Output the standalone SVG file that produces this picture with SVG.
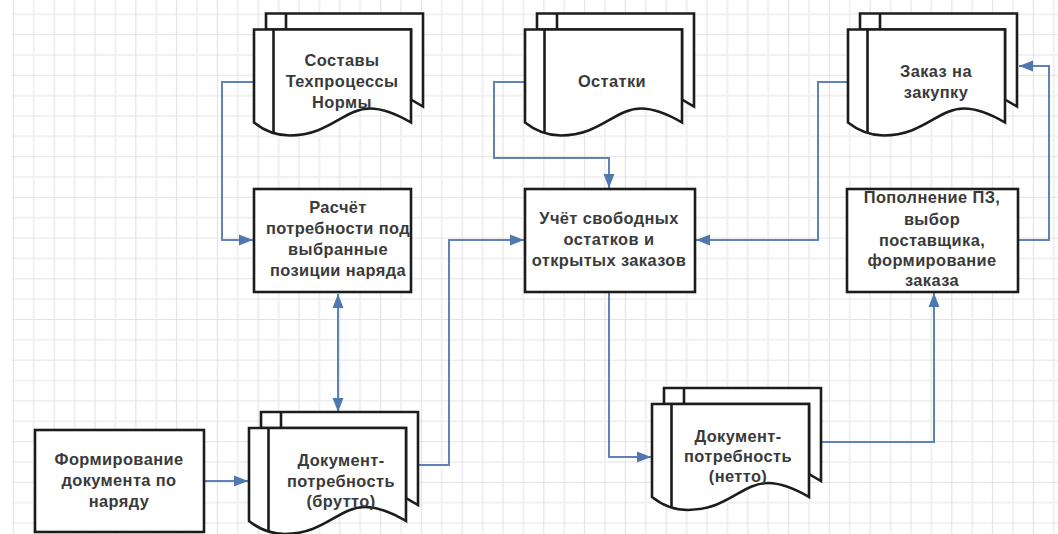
<svg xmlns="http://www.w3.org/2000/svg" xmlns:xlink="http://www.w3.org/1999/xlink" width="1058" height="534" viewBox="0 0 1058 534">
<style>
.box{fill:#fff;stroke:#1c1c1c;stroke-width:2.6}
.ln{fill:none;stroke:#1c1c1c;stroke-width:2.6}
.wh{fill:#fff;stroke:#1c1c1c;stroke-width:2.6;stroke-linejoin:miter}
.con{fill:none;stroke:#5f82b8;stroke-width:2}
text{font-family:"Liberation Sans",Arial,sans-serif;font-weight:700;font-size:16.4px;fill:#3a3a3a;text-anchor:middle;letter-spacing:.4px}
</style>
<defs>
<pattern id="grid" patternUnits="userSpaceOnUse" x="74.6" y="95.65" width="40.8" height="40.7">
<rect width="40.8" height="40.7" fill="#fff"/>
<path d="M0,0V40.7M40.8,0V40.7M0,0H40.8M0,40.7H40.8" stroke="#f1f1f3" stroke-width="2" fill="none"/>
<path d="M20.4,0V40.7M0,20.35H40.8" stroke="#e3e4e7" stroke-width="1.2" fill="none"/>
</pattern>
<marker id="arrow" markerUnits="userSpaceOnUse" markerWidth="15" markerHeight="12" refX="14" refY="6" orient="auto-start-reverse">
<path d="M0,0.5L14,6L0,11.5Z" fill="#4f78b0"/>
</marker>
<g id="doc">
<path class="wh" d="M12,0V-16H169V77L157,70V0Z"/>
<path class="ln" d="M32,-16V0"/>
<path class="wh" d="M0,0H157V93C140,83 125,79 116,79C90,79 75,106 36,106C22,106 10,101 0,93Z"/>
<path class="ln" d="M19.5,0V103"/>
</g>
</defs>
<rect width="1058" height="534" fill="#fff"/>
<rect x="12" width="1046" height="534" fill="url(#grid)"/>
<g id="connectors">
<path class="con" d="M254,82H222V240H253" marker-end="url(#arrow)"/>
<path class="con" d="M338,294V412" marker-start="url(#arrow)" marker-end="url(#arrow)"/>
<path class="con" d="M418,465H449V240H524" marker-end="url(#arrow)"/>
<path class="con" d="M204,481H248" marker-end="url(#arrow)"/>
<path class="con" d="M525,82H494V158H609V188" marker-end="url(#arrow)"/>
<path class="con" d="M847,82H818V240H696" marker-end="url(#arrow)"/>
<path class="con" d="M609,292V457H651" marker-end="url(#arrow)"/>
<path class="con" d="M822,442H934V293" marker-end="url(#arrow)"/>
<path class="con" d="M1018,240H1049V66H1019" marker-end="url(#arrow)"/>
</g>
<g id="node-sostavy">
<use xlink:href="#doc" href="#doc" x="254" y="29.5"/>
<text x="342" y="66">Составы</text>
<text x="342" y="87">Техпроцессы</text>
<text x="342" y="108">Нормы</text>
</g>
<g id="node-ostatki">
<use xlink:href="#doc" href="#doc" x="525" y="29.5"/>
<text x="612" y="87">Остатки</text>
</g>
<g id="node-zakaz">
<use xlink:href="#doc" href="#doc" x="848" y="29.5"/>
<text x="936" y="77">Заказ на</text>
<text x="936" y="98">закупку</text>
</g>
<g id="node-raschet">
<rect class="box" x="254" y="189" width="157" height="103"/>
<text x="338" y="213">Расчёт</text>
<text x="338" y="234">потребности под</text>
<text x="338" y="255">выбранные</text>
<text x="338" y="276">позиции наряда</text>
</g>
<g id="node-uchet">
<rect class="box" x="525" y="189" width="170" height="103"/>
<text x="609" y="224">Учёт свободных</text>
<text x="609" y="245">остатков и</text>
<text x="609" y="266">открытых заказов</text>
</g>
<g id="node-popolnenie">
<rect class="box" x="847" y="189" width="171" height="103"/>
<text x="932" y="203">Пополнение ПЗ,</text>
<text x="932" y="225">выбор</text>
<text x="932" y="246">поставщика,</text>
<text x="932" y="266">формирование</text>
<text x="932" y="286">заказа</text>
</g>
<g id="node-formirovanie">
<rect class="box" x="35" y="430" width="169" height="102"/>
<text x="119" y="465">Формирование</text>
<text x="119" y="486">документа по</text>
<text x="119" y="507">наряду</text>
</g>
<g id="node-brutto">
<use xlink:href="#doc" href="#doc" x="249" y="428"/>
<text x="341" y="466">Документ-</text>
<text x="341" y="487">потребность</text>
<text x="341" y="507">(брутто)</text>
</g>
<g id="node-netto">
<use xlink:href="#doc" href="#doc" x="652" y="404"/>
<text x="738" y="442">Документ-</text>
<text x="738" y="462">потребность</text>
<text x="738" y="482">(нетто)</text>
</g>
</svg>
